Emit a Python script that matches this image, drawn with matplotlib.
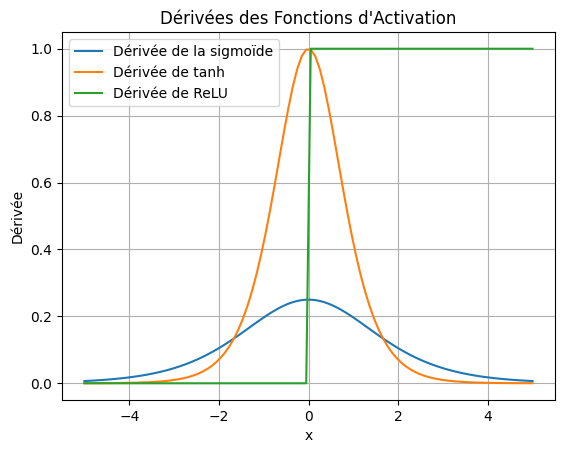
import numpy as np
import matplotlib
matplotlib.use("Agg")
import matplotlib.pyplot as plt

# the chart plots the derivative functions themselves, sampled on 100 points
x = np.linspace(-5, 5, 100)
sig = 1 / (1 + np.exp(-x))
d_sigmoid = sig * (1 - sig)
d_tanh = 1 - np.tanh(x) ** 2
d_relu = np.where(x > 0, 1.0, 0.0)

labels = ["Dérivée de la sigmoïde", "Dérivée de tanh", "Dérivée de ReLU"]

fig = plt.figure(figsize=(5.67, 4.55), dpi=100)
ax = fig.add_axes([62 / 567, 55 / 455, 493 / 567, 368 / 455])
ax.plot(x, d_sigmoid, label=labels[0])
ax.plot(x, d_tanh, label=labels[1])
ax.plot(x, d_relu, label=labels[2])
ax.set_title("Dérivées des Fonctions d'Activation")
ax.set_xlabel("x")
ax.set_ylabel("Dérivée")
ax.grid(True)
ax.legend(loc="upper left")
fig.savefig("out.png", dpi=100)
